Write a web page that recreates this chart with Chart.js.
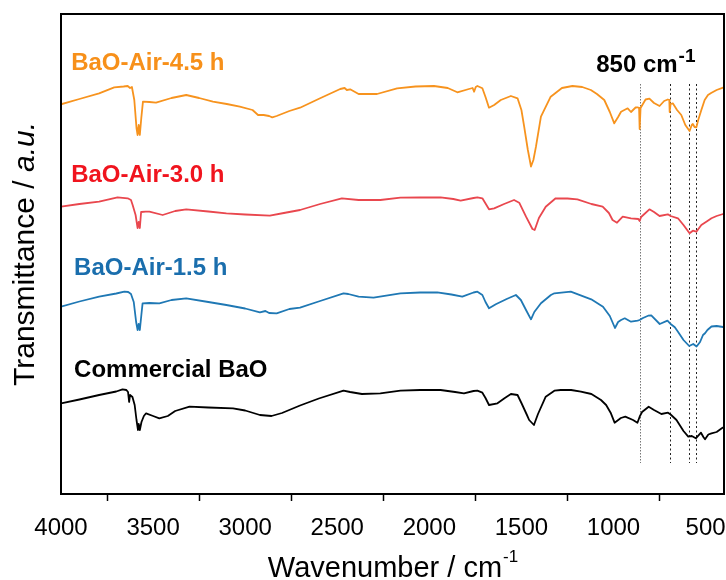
<!DOCTYPE html>
<html lang="en">
<head>
<meta charset="UTF-8" />
<title>FTIR spectra of BaO samples</title>
<script src="https://cdn.jsdelivr.net/npm/chart.js"></script>
<style>
  html, body { margin: 0; padding: 0; background: #fff; }
</style>
</head>
<body>
<canvas id="ftirChart" width="726" height="580"></canvas>
<script>
  // Offset spectra, transmittance in arbitrary units (stacked)
  const seriesNames = ['BaO-Air-4.5 h', 'BaO-Air-3.0 h', 'BaO-Air-1.5 h', 'Commercial BaO'];

  const air45Wn = [4000, 3900, 3793, 3711, 3660, 3638, 3625, 3615, 3602, 3590, 3584, 3578, 3572, 3564, 3555, 3520, 3484, 3400, 3320, 3250, 3175, 3100, 3029, 2960, 2930, 2900, 2870, 2853, 2829, 2760, 2702, 2593, 2484, 2460, 2448, 2430, 2384, 2284, 2175, 2075, 1975, 1900, 1848, 1785, 1765, 1757, 1748, 1739, 1712, 1695, 1676, 1648, 1612, 1557, 1521, 1500, 1485, 1465, 1448, 1435, 1421, 1394, 1341, 1280, 1223, 1170, 1123, 1090, 1050, 1020, 996, 975, 959, 923, 905, 880, 869, 861, 858, 853, 826, 805, 780, 750, 725, 705, 697, 695, 690, 678, 655, 632, 610, 587, 575, 569, 560, 550, 540, 523, 505, 487, 470, 440, 405, 400];
  const air45T = [389.7, 395, 400.7, 406.7, 407.5, 408, 406, 407, 394, 366, 359, 369, 359, 376, 392.3, 392, 391.3, 396, 399, 396, 392.3, 390, 387.3, 384, 379, 379, 378, 376.7, 378, 383, 386.3, 395.7, 405, 406, 404, 404.7, 400, 400, 405.7, 407.5, 408, 406, 401.7, 405, 406, 402.3, 407, 408, 405.7, 397, 386.3, 389, 394, 398, 395.7, 384, 367.3, 344, 327.5, 334, 347.3, 377.3, 397.3, 406, 408, 407, 404, 400, 394, 382, 370.7, 377, 382.3, 385.7, 382, 386.5, 386.7, 386, 365, 386, 394.5, 395.3, 391, 388, 393, 394.5, 394, 382, 390, 390.7, 384, 379, 369, 363, 369, 370, 367, 366.7, 374, 384, 394, 399, 401, 404, 406.3, 406.5];

  const air30Wn = [4000, 3900, 3793, 3693, 3638, 3620, 3611, 3595, 3584, 3578, 3572, 3565, 3540, 3520, 3448, 3380, 3320, 3200, 3102, 3000, 2866, 2790, 2702, 2593, 2475, 2384, 2266, 2157, 2050, 1939, 1870, 1830, 1760, 1739, 1712, 1676, 1648, 1594, 1540, 1512, 1475, 1440, 1428, 1405, 1368, 1314, 1250, 1196, 1120, 1059, 1025, 1005, 981, 950, 905, 865, 858, 850, 805, 780, 750, 705, 690, 650, 620, 587, 569, 550, 523, 490, 468, 440, 405, 400];
  const air30T = [287.3, 290, 292.3, 296.7, 295.7, 294, 289, 279, 266, 272, 266, 282, 282.3, 282.3, 279, 283, 284.7, 282.5, 280.7, 279.5, 278.3, 281, 284, 290, 295.7, 294, 294, 296.3, 296.5, 296.7, 295, 293.3, 296, 296.7, 295.7, 284.7, 285.7, 290, 294, 291.3, 277.3, 265, 264, 276, 287.3, 295.7, 295.5, 294.7, 290, 287.3, 281, 274, 271.3, 277.3, 275.7, 275, 273, 277, 284.7, 282, 278, 279.7, 278, 275.7, 269, 260.7, 263.3, 262.3, 269, 273, 275.7, 278, 280, 281];

  const air15Wn = [4000, 3900, 3793, 3700, 3656, 3635, 3620, 3605, 3592, 3584, 3578, 3572, 3562, 3557, 3520, 3466, 3400, 3320, 3200, 3102, 3000, 2920, 2890, 2870, 2829, 2760, 2702, 2593, 2466, 2440, 2384, 2303, 2157, 2050, 1957, 1880, 1821, 1760, 1739, 1712, 1695, 1676, 1639, 1580, 1530, 1503, 1475, 1448, 1430, 1394, 1340, 1321, 1232, 1121, 1057, 1020, 992, 975, 959, 939, 905, 869, 858, 840, 812, 795, 749, 707, 690, 667, 650, 620, 589, 567, 549, 530, 514, 503, 490, 468, 440, 405, 400];
  const air15T = [187.3, 192.5, 197.3, 200.5, 202.3, 202, 200, 192, 172, 164, 170, 164, 182, 190.7, 191, 190.7, 194, 195.7, 192, 189, 185.5, 181.7, 183, 181, 180.7, 185, 186.3, 193, 200.7, 200, 197.3, 196.3, 200.7, 201.5, 201.7, 199.5, 197.3, 201.5, 202.3, 199, 192, 185.7, 189.7, 195, 199, 194, 184, 174.7, 182, 190.7, 199, 200.7, 202.3, 194.7, 187.3, 178, 166, 172, 174, 175.7, 172.3, 173.3, 174, 176, 178.3, 178.7, 170, 173.3, 170, 166.7, 162.3, 154, 148, 150, 147.5, 152, 159, 160.7, 164, 167.5, 168, 167, 166.7];

  const commWn = [4000, 3900, 3793, 3700, 3666, 3645, 3636, 3630, 3625, 3612, 3600, 3590, 3582, 3578, 3572, 3563, 3550, 3538, 3500, 3466, 3420, 3380, 3302, 3200, 3066, 3000, 2920, 2857, 2800, 2702, 2600, 2466, 2430, 2366, 2266, 2157, 2050, 1939, 1860, 1812, 1760, 1739, 1712, 1695, 1676, 1630, 1590, 1557, 1521, 1500, 1470, 1458, 1432, 1410, 1368, 1321, 1286, 1230, 1177, 1120, 1068, 1040, 1014, 994, 960, 936, 894, 870, 858, 845, 809, 780, 740, 704, 690, 658, 620, 594, 575, 553, 525, 512, 503, 485, 468, 440, 410, 400];
  const commT = [90.7, 94.5, 99, 102.5, 104.7, 104, 102, 92, 99, 97, 89, 74, 64, 70, 64, 72, 78, 80.7, 78, 75.7, 78, 83, 87.3, 86.5, 85.7, 83.5, 79, 78, 81, 88.5, 95.5, 103.3, 102, 100, 100.7, 103.3, 104, 104, 102, 100.7, 103, 103.3, 101.3, 96, 89, 90.7, 96, 100, 99, 91, 79, 74, 69, 80, 97.3, 103.3, 104, 104, 102.3, 100, 94, 89, 80.7, 71.3, 76, 77.3, 74, 71.3, 77.3, 82, 87.3, 84, 80, 81.3, 79.5, 74, 63, 57.3, 58, 55.7, 61.3, 57, 54.7, 59.5, 60.7, 62, 66, 67];

  // marked band positions (cm-1)
  const markerWn = [858, 695, 591, 553];
  const xTicks = [4000, 3500, 3000, 2500, 2000, 1500, 1000, 500];
  const xMinorTicks = [3750, 3250, 2750, 2250, 1750, 1250, 750];

  const FONT = '"Liberation Sans", Arial, sans-serif';

  function toPoints(wn, t) {
    return wn.map((x, i) => ({ x: x, y: t[i] }));
  }

  const lineColors = ['#F7931E', '#E9474E', '#1F78B4', '#000000'];
  const textColors = ['#F7901A', '#F0141E', '#1A6EAD', '#000000'];
  // label anchors in data units (wavenumber, transmittance)
  const labelAnchors = [[3945, 424], [3945, 312], [3929, 219], [3929, 117]];

  const spectraPlugin = {
    id: 'spectraDecor',
    beforeDatasetsDraw(chart) {
      const { ctx, scales: { x, y } } = chart;
      ctx.save();
      ctx.lineWidth = 1;
      markerWn.forEach((w, i) => {
        const px = Math.round(x.getPixelForValue(w)) + 0.5;
        ctx.strokeStyle = i === 0 ? '#777' : '#222';
        ctx.setLineDash(i === 0 ? [1.5, 1.5] : [2, 2.5]);
        ctx.beginPath();
        ctx.moveTo(px, y.getPixelForValue(410));
        ctx.lineTo(px, y.getPixelForValue(31));
        ctx.stroke();
      });
      ctx.restore();
    },
    afterDraw(chart) {
      const { ctx, chartArea: a, scales: { x, y } } = chart;
      ctx.save();
      // frame
      ctx.strokeStyle = '#000';
      ctx.lineWidth = 2;
      ctx.strokeRect(a.left, a.top, a.right - a.left, a.bottom - a.top);

      // sample labels
      ctx.textBaseline = 'alphabetic';
      ctx.textAlign = 'left';
      ctx.font = 'bold 24px ' + FONT;
      seriesNames.forEach((name, i) => {
        ctx.fillStyle = textColors[i];
        ctx.fillText(name, x.getPixelForValue(labelAnchors[i][0]), y.getPixelForValue(labelAnchors[i][1]));
      });

      // band annotation
      ctx.fillStyle = '#000';
      const bx = x.getPixelForValue(1094);
      const by = y.getPixelForValue(422);
      ctx.fillText('850 cm', bx, by);
      const bw = ctx.measureText('850 cm').width;
      ctx.font = 'bold 19px ' + FONT;
      ctx.fillText('-1', bx + bw + 1, by - 10);

      // x axis title
      ctx.font = '29px ' + FONT;
      const xMain = 'Wavenumber / cm';
      const xw = ctx.measureText(xMain).width;
      ctx.font = '17px ' + FONT;
      const sw = ctx.measureText('-1').width;
      const cx = (a.left + a.right) / 2;
      const sx = cx - (xw + sw) / 2;
      ctx.font = '29px ' + FONT;
      ctx.fillText(xMain, sx, 577);
      ctx.font = '17px ' + FONT;
      ctx.fillText('-1', sx + xw + 1, 562);

      // y axis title with italic units
      ctx.translate(26, (a.top + a.bottom) / 2);
      ctx.rotate(-Math.PI / 2);
      ctx.textBaseline = 'middle';
      ctx.font = '30px ' + FONT;
      const yMain = 'Transmittance / ';
      const yw = ctx.measureText(yMain).width;
      ctx.font = 'italic 30px ' + FONT;
      const uw = ctx.measureText('a.u.').width;
      const ys = -(yw + uw) / 2;
      ctx.font = '30px ' + FONT;
      ctx.fillText(yMain, ys, 0);
      ctx.font = 'italic 30px ' + FONT;
      ctx.fillText('a.u.', ys + yw, 0);
      ctx.restore();
    }
  };

  const ctx = document.getElementById('ftirChart').getContext('2d');
  new Chart(ctx, {
    type: 'line',
    data: {
      datasets: [
        { label: seriesNames[0], data: toPoints(air45Wn, air45T), borderColor: lineColors[0] },
        { label: seriesNames[1], data: toPoints(air30Wn, air30T), borderColor: lineColors[1] },
        { label: seriesNames[2], data: toPoints(air15Wn, air15T), borderColor: lineColors[2] },
        { label: seriesNames[3], data: toPoints(commWn, commT), borderColor: lineColors[3] }
      ]
    },
    options: {
      responsive: false,
      animation: false,
      layout: { padding: { left: 61, top: 14, right: 2, bottom: 0 } },
      elements: {
        point: { radius: 0 },
        line: { borderWidth: 1.8, tension: 0, fill: false, borderJoinStyle: 'round' }
      },
      plugins: {
        legend: { display: false },
        tooltip: { enabled: false }
      },
      scales: {
        x: {
          type: 'linear',
          reverse: true,
          bounds: 'data',
          min: 400,
          max: 4000,
          afterBuildTicks(scale) {
            scale.ticks = xTicks.concat(xMinorTicks).sort((p, q) => q - p).map(v => ({ value: v }));
          },
          afterFit(scale) {
            // the frame spans the full width; labels may overhang it
            scale.height = 86;
            scale.paddingLeft = 0;
            scale.paddingRight = 0;
          },
          border: { display: false },
          grid: {
            drawOnChartArea: false,
            drawTicks: true,
            tickLength: 7,
            tickWidth: 1.5,
            tickColor: (c) => (c.tick && xMinorTicks.includes(c.tick.value)) ? '#000' : 'rgba(0,0,0,0)'
          },
          ticks: {
            autoSkip: false,
            maxRotation: 0,
            padding: 13,
            color: '#000',
            font: { family: FONT, size: 24 },
            callback: (v) => xTicks.includes(v) ? String(v) : ''
          }
        },
        y: { display: false, min: 0, max: 480 }
      }
    },
    plugins: [spectraPlugin]
  });
</script>
</body>
</html>
